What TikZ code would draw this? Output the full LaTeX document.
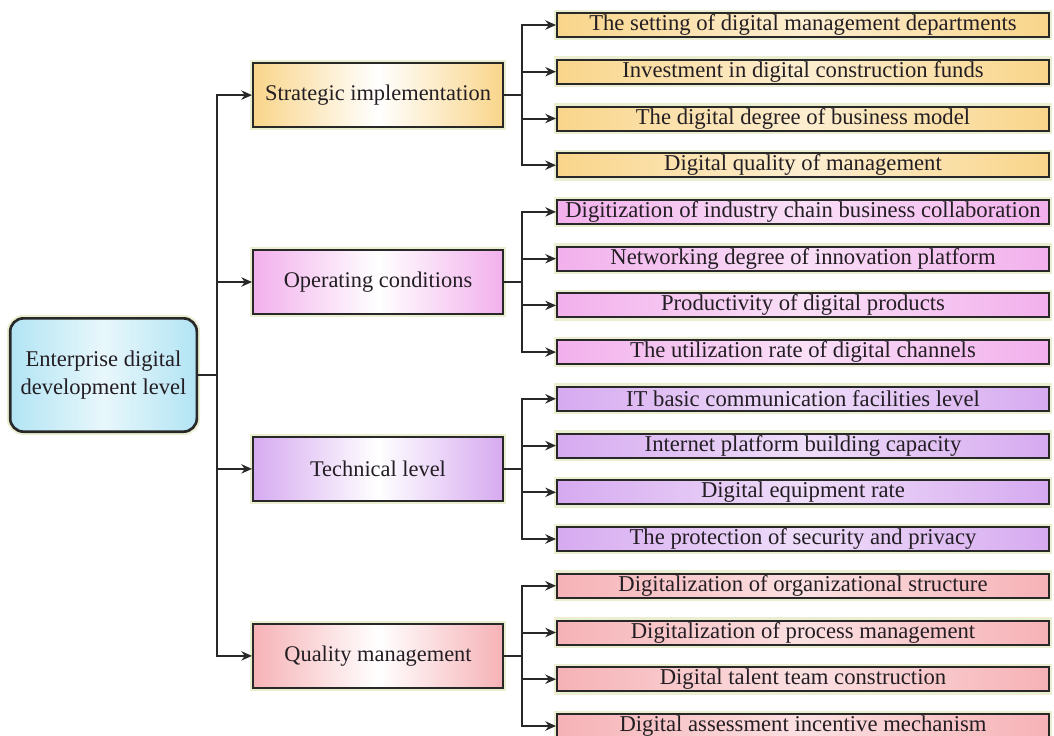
\documentclass[tikz,border=0pt]{standalone}
\usepackage{fontspec}
\setmainfont{Liberation Serif}
\usetikzlibrary{arrows.meta}
\definecolor{linegray}{RGB}{40,40,40}
\definecolor{txtgray}{RGB}{35,30,35}
\definecolor{glow}{RGB}{236,238,210}
\definecolor{rootblue}{RGB}{178,228,244}
\definecolor{orng}{RGB}{249,213,138}
\definecolor{pnk}{RGB}{242,176,236}
\definecolor{lila}{RGB}{214,170,240}
\definecolor{rose}{RGB}{246,178,182}
\tikzset{
  box/.style = {draw=linegray, line width=1.5pt, inner sep=0pt, align=center,
    text=txtgray, preaction={draw=glow, line width=5pt}},
  lvl_root/.style = {box, rounded corners=10pt, line width=2pt,
    font=\fontsize{16.9}{21}\selectfont,
    minimum width=140pt, minimum height=85pt, left color=rootblue,
    right color=rootblue, middle color=rootblue!30},% racine
  lvl_dim/.style = {box, minimum width=187.5pt, minimum height=48pt,
    font=\fontsize{16.8}{20}\selectfont,
    left color=#1, right color=#1, middle color=white},% dimension
  lvl_ind/.style = {box, minimum width=369pt, minimum height=18pt,
    font=\fontsize{17}{20}\selectfont,
    left color=#1, right color=#1, middle color=#1!40},% indicateur
  arr/.style = {draw=linegray, line width=1.5pt,
    -{Stealth[length=8pt,width=7pt]}}
}
\begin{document}
\begin{tikzpicture}[x=0.75pt, y=-0.75pt]
\useasboundingbox (0,0) rectangle (1054,736);
% racine
\node [lvl_root] (root) at (103.5,375) {Enterprise digital\\development level};
% dimensions
\node [lvl_dim=orng] (strat) at (378,95.1) {Strategic implementation};
\node [lvl_dim=pnk]  (oper)  at (378,282)  {Operating conditions};
\node [lvl_dim=lila] (tech)  at (378,468.9) {Technical level};
\node [lvl_dim=rose] (qual)  at (378,655.9) {Quality management};
% indicateurs
\node [lvl_ind=orng] (s1) at (803,25)    {The setting of digital management departments};
\node [lvl_ind=orng] (s2) at (803,71.7)  {Investment in digital construction funds};
\node [lvl_ind=orng] (s3) at (803,118.5) {The digital degree of business model};
\node [lvl_ind=orng] (s4) at (803,165.2) {Digital quality of management};
\node [lvl_ind=pnk]  (o1) at (803,211.9) {Digitization of industry chain business collaboration};
\node [lvl_ind=pnk]  (o2) at (803,258.7) {Networking degree of innovation platform};
\node [lvl_ind=pnk]  (o3) at (803,305.4) {Productivity of digital products};
\node [lvl_ind=pnk]  (o4) at (803,352.1) {The utilization rate of digital channels};
\node [lvl_ind=lila] (t1) at (803,398.8) {IT basic communication facilities level};
\node [lvl_ind=lila] (t2) at (803,445.6) {Internet platform building capacity};
\node [lvl_ind=lila] (t3) at (803,492.3) {Digital equipment rate};
\node [lvl_ind=lila] (t4) at (803,539)   {The protection of security and privacy};
\node [lvl_ind=rose] (q1) at (803,585.8) {Digitalization of organizational structure};
\node [lvl_ind=rose] (q2) at (803,632.5) {Digitalization of process management};
\node [lvl_ind=rose] (q3) at (803,679.2) {Digital talent team construction};
\node [lvl_ind=rose] (q4) at (803,726)   {Digital assessment incentive mechanism};
% points de branchement
\coordinate (trunk) at (217,375);
\coordinate (bs) at (522,95.1);
\coordinate (bo) at (522,282);
\coordinate (bt) at (522,468.9);
\coordinate (bq) at (522,655.9);
% connecteurs
\draw [arr] (root.east) -- (trunk) |- (strat.west);
\draw [arr] (trunk) |- (oper.west);
\draw [arr] (trunk) |- (tech.west);
\draw [arr] (trunk) |- (qual.west);
\draw [arr] (strat.east) -- (bs) |- (s1.west);
\draw [arr] (bs) |- (s2.west);
\draw [arr] (bs) |- (s3.west);
\draw [arr] (bs) |- (s4.west);
\draw [arr] (oper.east) -- (bo) |- (o1.west);
\draw [arr] (bo) |- (o2.west);
\draw [arr] (bo) |- (o3.west);
\draw [arr] (bo) |- (o4.west);
\draw [arr] (tech.east) -- (bt) |- (t1.west);
\draw [arr] (bt) |- (t2.west);
\draw [arr] (bt) |- (t3.west);
\draw [arr] (bt) |- (t4.west);
\draw [arr] (qual.east) -- (bq) |- (q1.west);
\draw [arr] (bq) |- (q2.west);
\draw [arr] (bq) |- (q3.west);
\draw [arr] (bq) |- (q4.west);
\end{tikzpicture}
\end{document}
